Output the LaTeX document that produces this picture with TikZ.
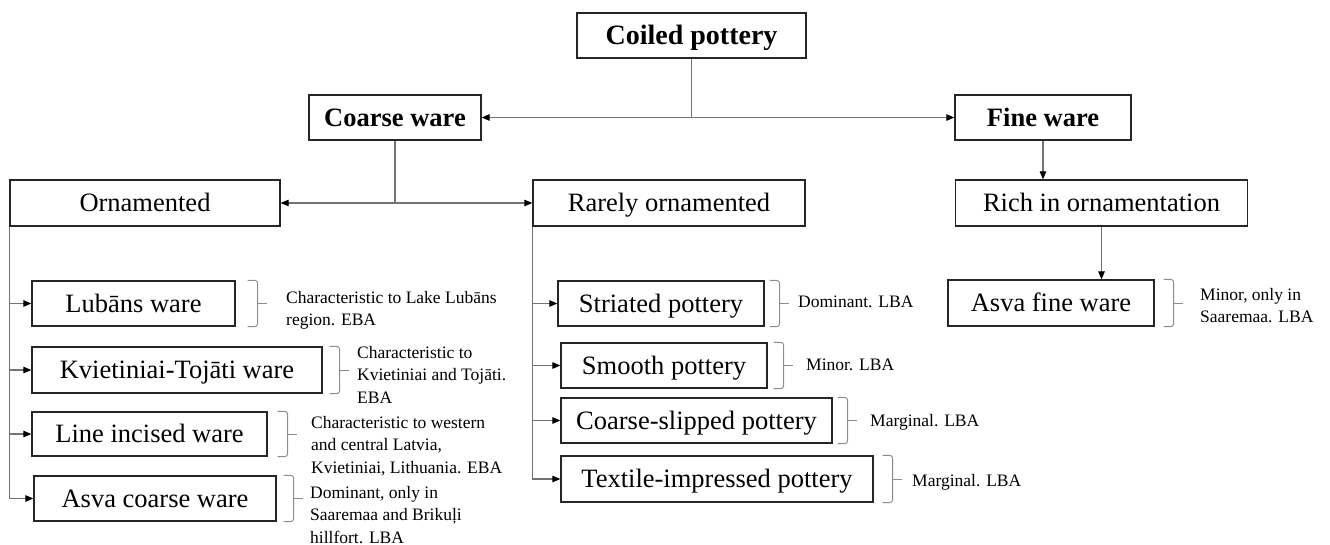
\documentclass[tikz,border=0pt]{standalone}
\usepackage{fontspec}
\setmainfont{Liberation Serif}
\usetikzlibrary{arrows.meta,calc}
\newcommand\brkt[2]{%
  \draw[brk] ($(#1.north east)+(#2,0)$) -- ++(10,0) |- ($(#1.south east)+(#2,0)$);
  \draw[brk] ($(#1.east)+(#2+10,0)$) -- ++(9,0);
}
\begin{document}
\begin{tikzpicture}[x=1pt,y=-1pt,
  >={Triangle[length=8pt,width=6.5pt,color=black]},
  box/.style={draw=black!85, line width=1.3pt, inner sep=0pt, font=\fontsize{26.5}{30}\selectfont, minimum height=45pt, text height=17.5pt, text depth=0pt},
  bbox/.style={box, font=\fontsize{26.5}{30}\selectfont\bfseries},
  conn/.style={draw=black!55, line width=1.1pt},
  note/.style={anchor=north west, inner sep=0pt, align=left, font=\fontsize{17.5}{22.5}\selectfont},
  brk/.style={draw=black!45, line width=1pt, rounded corners=3pt},
]
\useasboundingbox (0,0) rectangle (1330,545);
% top level
\node[bbox, font=\fontsize{28}{32}\selectfont\bfseries, text height=18.5pt, minimum width=229pt] (coiled) at (691.5,35.5) {Coiled pottery};
\node[bbox, minimum width=172pt] (coarse) at (395,117.5) {Coarse ware};
\node[bbox, minimum width=176pt] (fine) at (1043,117.5) {Fine ware};
\node[box, minimum width=270pt, minimum height=46pt] (orn) at (145,203) {Ornamented};
\node[box, minimum width=272pt, minimum height=46pt] (rare) at (669,203) {Rarely ornamented};
\node[box, minimum width=292pt, minimum height=46pt] (rich) at (1101.5,203) {Rich in ornamentation};
% left column
\node[box, minimum width=203pt] (lub) at (133.5,303.5) {Lubāns ware};
\node[box, minimum width=290pt, minimum height=46pt] (kvi) at (177,370) {Kvietiniai-Tojāti ware};
\node[box, minimum width=235pt, minimum height=44pt] (lin) at (149.5,434) {Line incised ware};
\node[box, minimum width=242pt] (asvac) at (155,498.5) {Asva coarse ware};
% middle column
\node[box, minimum width=206pt] (str) at (661,303.5) {Striated pottery};
\node[box, minimum width=206pt] (smo) at (664,365.5) {Smooth pottery};
\node[box, minimum width=271pt] (csl) at (696.5,420.5) {Coarse-slipped pottery};
\node[box, minimum width=312pt, minimum height=46pt] (tex) at (717,479) {Textile-impressed pottery};
% right column
\node[box, minimum width=206pt, minimum height=46pt] (asvaf) at (1051,303) {Asva fine ware};
% connectors
\draw[conn] (coiled.south) -- (coiled.south |- coarse.east);
\draw[conn,<->] (coarse.east) -- (fine.west);
\draw[conn] (coarse.south) -- (coarse.south |- orn.east);
\draw[conn,<->] (orn.east) -- (rare.west);
\draw[conn,->] (fine.south) -- (fine.south |- rich.north);
\draw[conn,->] (rich.south) -- (rich.south |- asvaf.north);
\draw[conn] (orn.south west) -- (orn.south west |- asvac.west);
\foreach \n in {lub,kvi,lin,asvac} \draw[conn,->] (orn.south west |- \n.west) -- (\n.west);
\draw[conn] (rare.south west) -- (rare.south west |- tex.west);
\foreach \n in {str,smo,csl,tex} \draw[conn,->] (rare.south west |- \n.west) -- (\n.west);
% brackets
\brkt{lub}{12}
\brkt{kvi}{7}
\brkt{lin}{10}
\brkt{asvac}{7}
\brkt{str}{5}
\brkt{smo}{6}
\brkt{csl}{5}
\brkt{tex}{9}
\brkt{asvaf}{9}
% notes
\node[note] (nlub) at (286,291) {Characteristic to Lake Lubāns\\region. EBA};
\node[note] (nkvi) at (357,346) {Characteristic to\\Kvietiniai and Tojāti.\\EBA};
\node[note] (nlin) at (311,416) {Characteristic to western\\and central Latvia,\\Kvietiniai, Lithuania. EBA};
\node[note] (nasvac) at (310,486) {Dominant, only in\\Saaremaa and Brikuļi\\hillfort. LBA};
\node[note] (nstr) at (798,296) {Dominant. LBA};
\node[note] (nsmo) at (806,359) {Minor. LBA};
\node[note] (ncsl) at (870,414) {Marginal. LBA};
\node[note] (ntex) at (912,474) {Marginal. LBA};
\node[note] (nasvaf) at (1200,288) {Minor, only in\\Saaremaa. LBA};
\end{tikzpicture}
\end{document}
